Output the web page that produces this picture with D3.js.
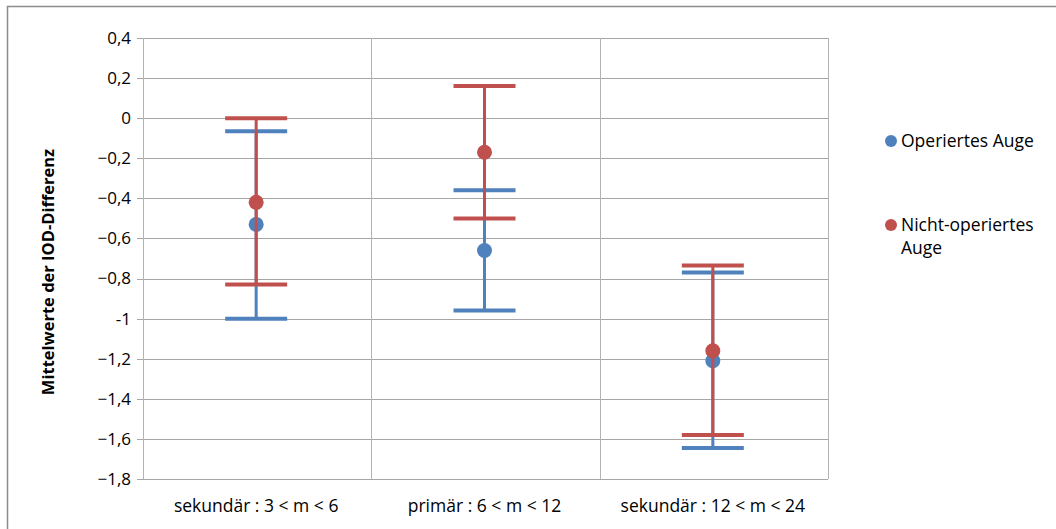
<!DOCTYPE html>
<html>
<head>
<meta charset="utf-8">
<script src="https://cdn.jsdelivr.net/npm/d3@7/dist/d3.min.js"></script>
<style>
  html, body { margin: 0; padding: 0; background: #fff; }
  svg { display: block; font-family: "Open Sans", "Noto Sans", sans-serif; }
</style>
</head>
<body>
<svg id="chart" width="1056" height="529"></svg>
<script>
// Age groups (x categories)
const categories = ["sekundär : 3 < m < 6", "primär : 6 < m < 12", "sekundär : 12 < m < 24"];
// Series names
const seriesNames = ["Operiertes Auge", "Nicht-operiertes Auge"];
// Means of the IOD difference
const meanOperiert = [-0.53, -0.66, -1.21];
const meanNicht = [-0.42, -0.17, -1.16];
// Upper / lower error bar ends
const upperOperiert = [-0.065, -0.36, -0.77];
const lowerOperiert = [-1.0, -0.96, -1.645];
const upperNicht = [0.0, 0.16, -0.735];
const lowerNicht = [-0.83, -0.50, -1.58];
// Y axis ticks
const yTicks = [0.4, 0.2, 0, -0.2, -0.4, -0.6, -0.8, -1, -1.2, -1.4, -1.6, -1.8];

const colors = ["#4F81BD", "#C0504D"];

const svg = d3.select("#chart");

// Outer chart frame
svg.append("rect")
  .attr("x", 7.5).attr("y", 6.5).attr("width", 1100).attr("height", 600)
  .attr("fill", "none").attr("stroke", "#8c8c8c").attr("stroke-width", 1.5);

const plot = { left: 143, right: 828, top: 38, bottom: 479 };

const x = d3.scaleBand().domain(categories).range([plot.left, plot.right]);
const y = d3.scaleLinear().domain([-1.8, 0.4]).range([plot.bottom, plot.top]);

const g = svg.append("g");

// Horizontal gridlines
g.selectAll("line.hgrid").data(yTicks).join("line")
  .attr("class", "hgrid")
  .attr("x1", plot.left - 6).attr("x2", plot.right)
  .attr("y1", d => Math.round(y(d)) + 0.5).attr("y2", d => Math.round(y(d)) + 0.5)
  .attr("stroke", "#a6a6a6").attr("stroke-width", 1);

// Vertical category separators and plot edges
const seps = categories.map(c => x(c)).concat([plot.right]);
g.selectAll("line.vgrid").data(seps).join("line")
  .attr("class", "vgrid")
  .attr("x1", d => Math.round(d) + 0.5).attr("x2", d => Math.round(d) + 0.5)
  .attr("y1", plot.top).attr("y2", plot.bottom)
  .attr("stroke", "#b3b3b3").attr("stroke-width", 1);

// Y tick labels (German decimal comma)
const fmt = d => (Number.isInteger(d) ? String(d) : d3.format(".1f")(d).replace(".", ","));
g.selectAll("text.ytick").data(yTicks).join("text")
  .attr("class", "ytick")
  .attr("x", plot.left - 12).attr("y", d => y(d))
  .attr("dy", "0.35em").attr("text-anchor", "end")
  .attr("font-size", 17).attr("fill", "#000")
  .text(fmt);

// X category labels
g.selectAll("text.xlab").data(categories).join("text")
  .attr("class", "xlab")
  .attr("x", d => x(d) + x.bandwidth() / 2 - 1)
  .attr("y", 506).attr("dy", "0.35em").attr("text-anchor", "middle")
  .attr("font-size", 17.5).attr("fill", "#000")
  .text(d => d);

// Y axis title
svg.append("text")
  .attr("transform", "translate(54,272) rotate(-90)")
  .attr("text-anchor", "middle").attr("font-size", 16.5).attr("font-weight", "bold")
  .text("Mittelwerte der IOD-Differenz");

// Error bars and mean markers per series
const seriesData = [
  { mean: meanOperiert, up: upperOperiert, lo: lowerOperiert },
  { mean: meanNicht, up: upperNicht, lo: lowerNicht }
];
const capHalf = 31;

seriesData.forEach((s, si) => {
  const sg = g.append("g");
  const rows = categories.map((c, i) => ({ c, m: s.mean[i], u: s.up[i], l: s.lo[i] }));
  const cx = d => x(d.c) + x.bandwidth() / 2 - 1;
  sg.selectAll("line.stem").data(rows).join("line")
    .attr("x1", cx).attr("x2", cx)
    .attr("y1", d => y(d.u)).attr("y2", d => y(d.l))
    .attr("stroke", colors[si]).attr("stroke-width", 3);
  sg.selectAll("line.capu").data(rows).join("line")
    .attr("x1", d => cx(d) - capHalf).attr("x2", d => cx(d) + capHalf)
    .attr("y1", d => y(d.u)).attr("y2", d => y(d.u))
    .attr("stroke", colors[si]).attr("stroke-width", 4);
  sg.selectAll("line.capl").data(rows).join("line")
    .attr("x1", d => cx(d) - capHalf).attr("x2", d => cx(d) + capHalf)
    .attr("y1", d => y(d.l)).attr("y2", d => y(d.l))
    .attr("stroke", colors[si]).attr("stroke-width", 4);
  sg.selectAll("circle").data(rows).join("circle")
    .attr("cx", cx).attr("cy", d => y(d.m)).attr("r", 7.5)
    .attr("fill", colors[si]);
});

// Legend
const legend = svg.append("g");
const legendItems = [
  { lines: ["Operiertes Auge"], y: 141 },
  { lines: ["Nicht-operiertes", "Auge"], y: 225 }
];
legendItems.forEach((it, i) => {
  legend.append("circle").attr("cx", 891).attr("cy", it.y).attr("r", 6).attr("fill", colors[i]);
  it.lines.forEach((t, j) => {
    legend.append("text")
      .attr("x", 901).attr("y", it.y + j * 23).attr("dy", "0.35em")
      .attr("font-size", 17.5).attr("fill", "#000").text(t);
  });
});
</script>
</body>
</html>
